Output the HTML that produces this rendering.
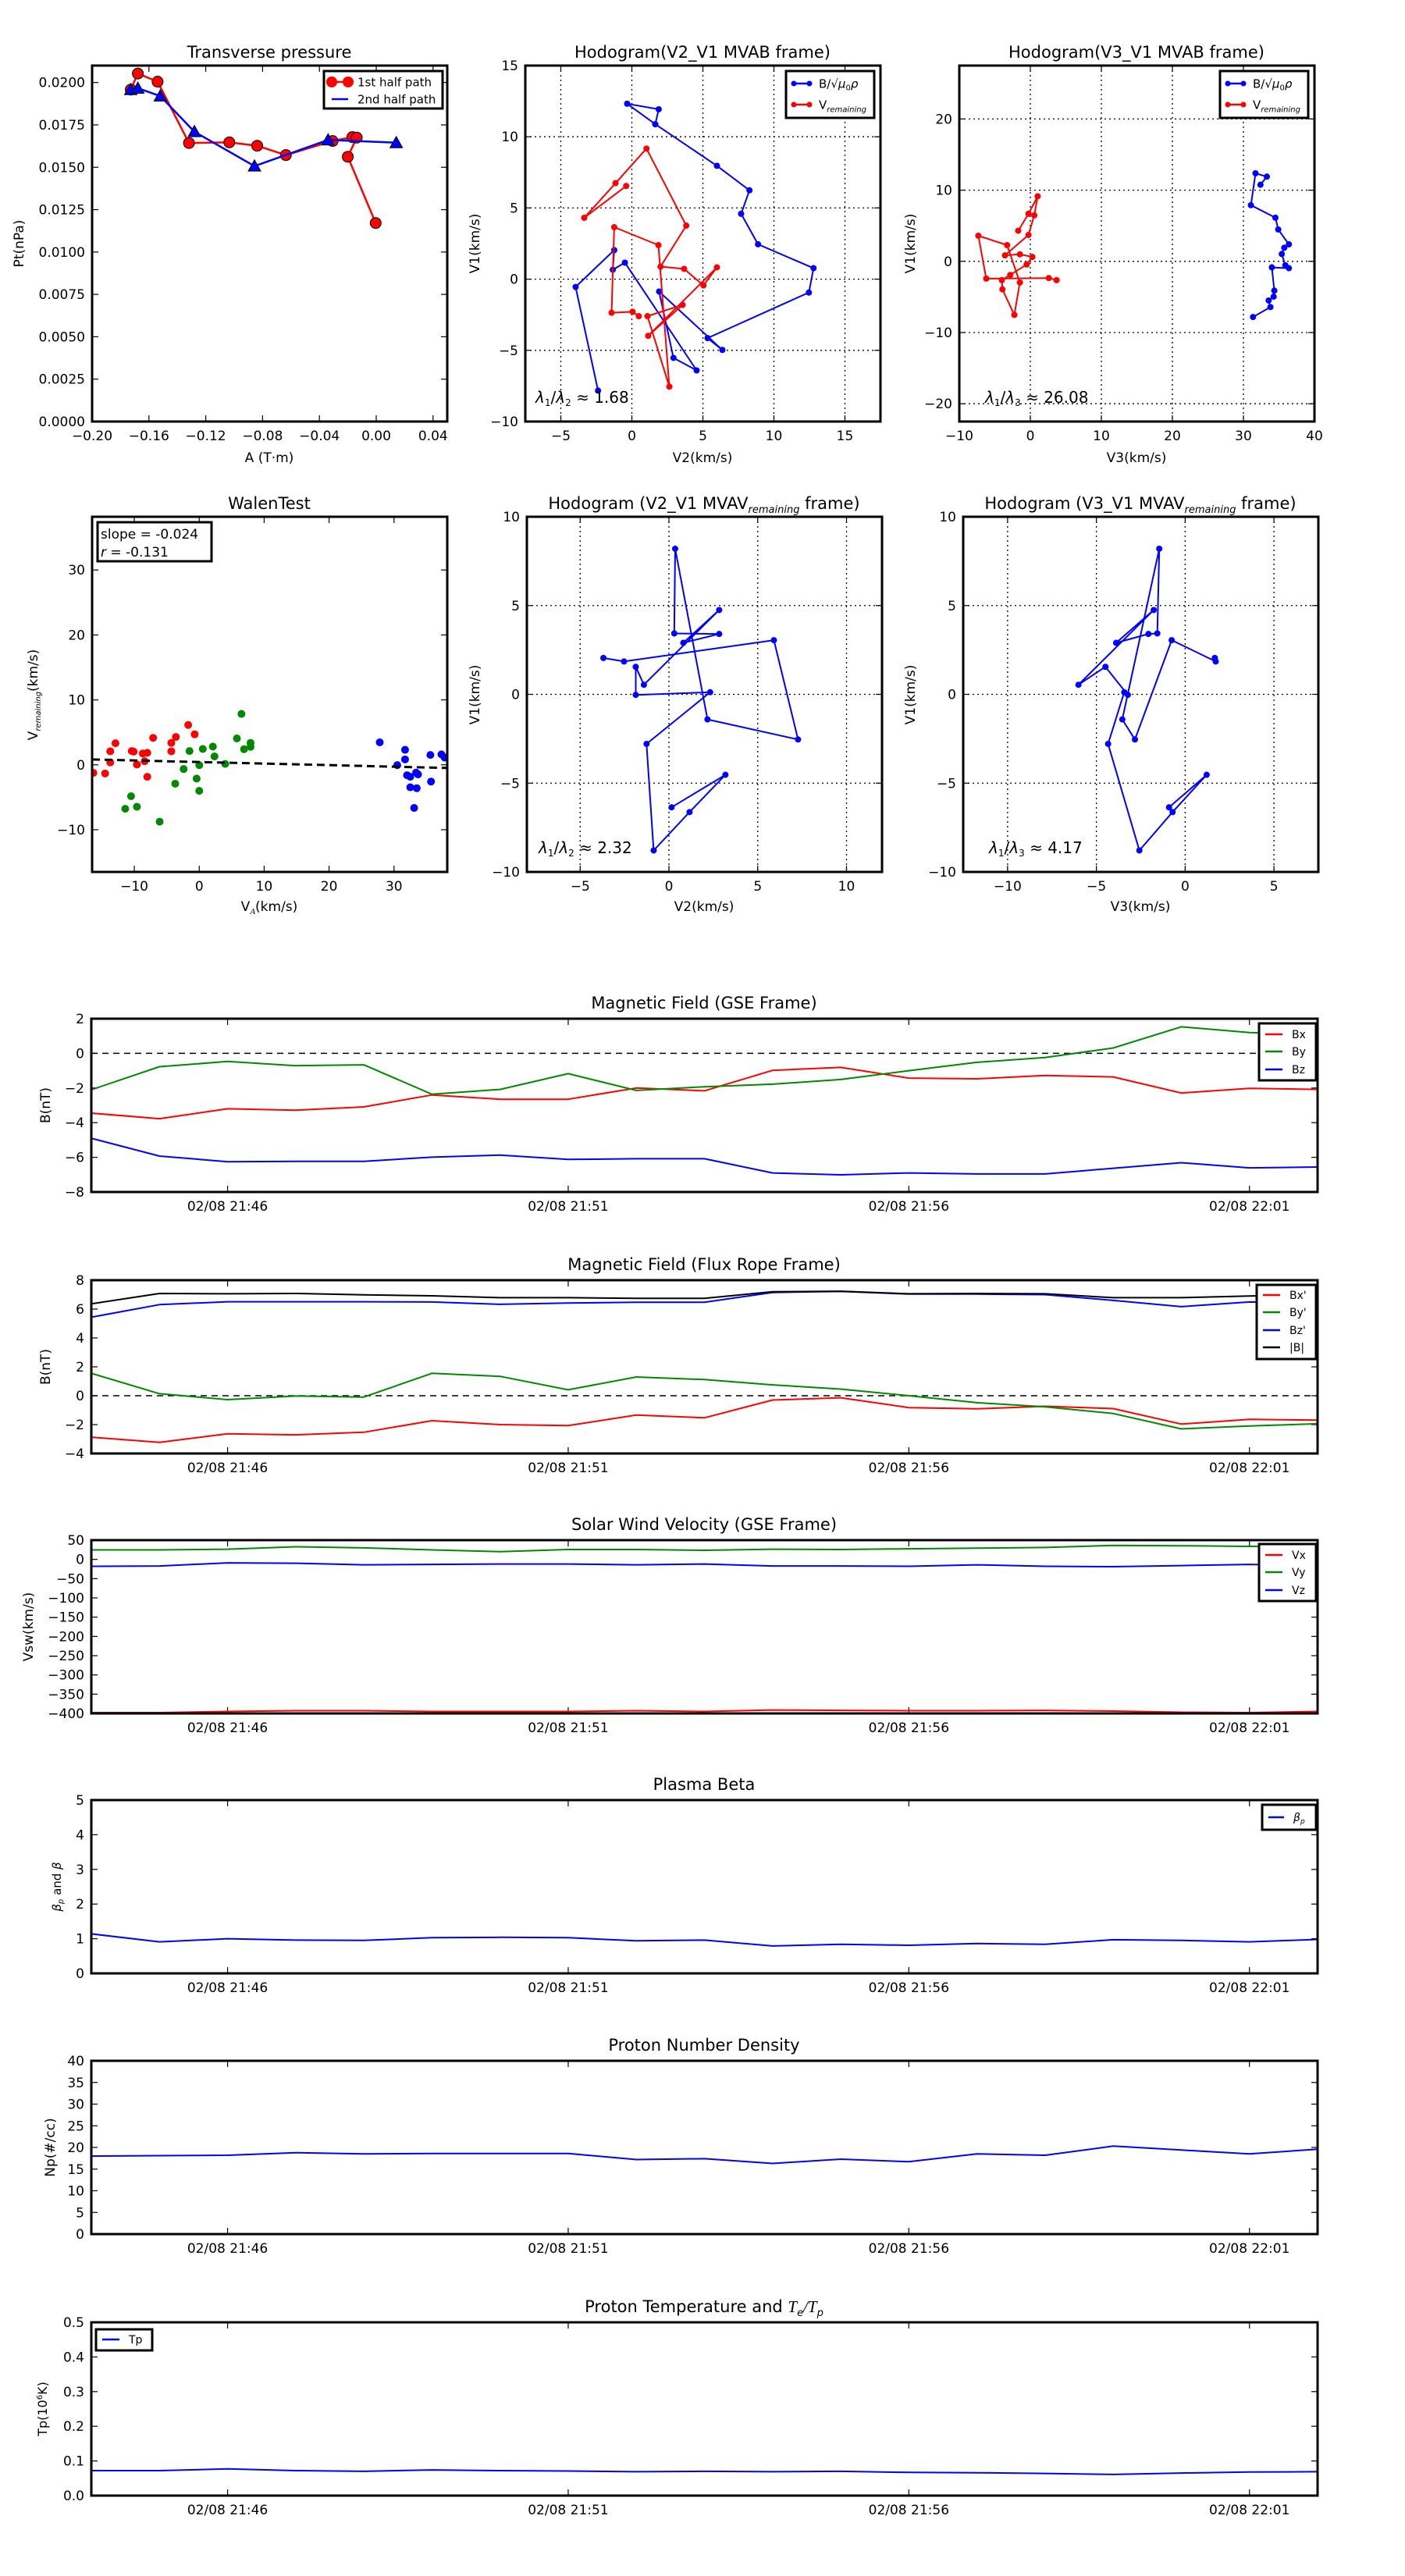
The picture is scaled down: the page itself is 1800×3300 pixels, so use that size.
<!DOCTYPE html>
<html><head><meta charset="utf-8"><title>Flux rope analysis</title>
<style>
html,body{margin:0;padding:0;background:#fff;}
svg{display:block;font-family:"DejaVu Sans","Liberation Sans",sans-serif;}
</style></head>
<body>
<svg id="chart" xmlns="http://www.w3.org/2000/svg" width="1800" height="3300" viewBox="0 0 1800 3300"><defs id="defs"></defs><rect width="1800" height="3300" fill="#fff"/></svg>
<script>
// ---------- DATA ----------
// Transverse pressure
const tpA1=[-0.1728,-0.1678,-0.1539,-0.1318,-0.1034,-0.0838,-0.0636,-0.0307,-0.0168,-0.0137,-0.020,-0.0004];
const tpP1=[0.01958,0.02053,0.02005,0.01643,0.01647,0.01627,0.01572,0.01655,0.01678,0.01675,0.01562,0.01171];
const tpA2=[-0.1728,-0.1678,-0.152,-0.128,-0.0857,-0.0339,0.0141];
const tpP2=[0.01958,0.01966,0.0192,0.0171,0.01507,0.01661,0.01645];
const tpXTicks=[-0.20,-0.16,-0.12,-0.08,-0.04,0.00,0.04];
const tpYTicks=[0,0.0025,0.005,0.0075,0.01,0.0125,0.015,0.0175,0.02];
// Hodogram V2_V1 MVAB
const habBV2=[-2.38,-3.96,-1.24,-1.34,-0.49,4.56,2.93,1.92,6.37,5.33,12.46,12.79,8.88,7.69,8.28,5.99,1.65,-0.33,1.89,1.65];
const habBV1=[-7.83,-0.55,2.04,0.66,1.16,-6.41,-5.53,-0.87,-4.97,-4.14,-0.94,0.77,2.45,4.59,6.24,7.96,10.88,12.32,11.93,10.88];
const habRV2=[-0.40,-3.35,-1.15,1.03,3.83,2.02,3.68,5.04,5.99,1.15,3.57,1.10,2.64,1.87,-1.24,-1.43,0.05,0.49];
const habRV1=[6.54,4.31,6.74,9.17,3.76,0.88,0.72,-0.44,0.83,-3.98,-1.81,-2.60,-7.55,2.39,3.65,-2.36,-2.29,-2.60];
// Hodogram V3_V1 MVAB
const hab3BV3=[31.35,33.8,33.55,34.25,34.35,34.0,36.4,35.9,35.4,35.75,36.4,34.9,34.5,31.05,31.7,33.3,32.4];
const hab3BV1=[-7.82,-6.42,-5.5,-4.96,-4.11,-0.85,-0.96,-0.55,1.03,1.91,2.39,4.48,6.13,7.89,12.37,11.9,10.76];
const hab3RV3=[-1.70,-0.26,1.03,0.55,-0.26,-3.57,-1.47,0.29,-0.52,-2.83,-4.01,-3.93,-2.25,-1.47,-3.27,-7.32,-6.21,2.6,3.7];
const hab3RV1=[4.3,6.68,9.14,6.46,3.71,0.84,0.99,0.62,-0.44,-1.91,-2.64,-3.93,-7.52,-2.97,2.28,3.6,-2.42,-2.35,-2.64];
// Walen test
const wRedX=[-16.3,-14.5,-13.7,-13.7,-12.9,-10.4,-10.1,-9.6,-8.7,-8.4,-8.0,-8.0,-7.1,-4.3,-4.3,-3.6,-1.7,-0.7];
const wRedY=[-1.25,-1.34,0.37,2.08,3.32,2.12,2.03,0.05,1.75,0.55,1.85,-1.85,4.15,3.37,2.08,4.29,6.13,4.70];
const wGreenX=[-11.4,-10.5,-9.6,-6.1,-3.7,-2.4,-1.5,-0.4,0,0,0.55,2.1,2.35,4.0,5.8,6.5,6.9,7.9,7.9];
const wGreenY=[-6.78,-4.84,-6.46,-8.76,-2.91,-0.65,2.12,-2.12,-0.05,-4.01,2.44,2.81,1.29,0.14,4.06,7.84,2.40,2.77,3.37];
const wBlueX=[27.8,30.5,31.7,31.7,32.0,32.5,32.5,33.1,33.4,33.7,33.5,35.6,35.7,37.3,37.8];
const wBlueY=[3.46,-0.05,2.31,0.83,-1.61,-1.85,-3.46,-6.64,-1.2,-1.48,-3.6,1.52,-2.58,1.61,1.11];
const wFit=[-0.024,0.43]; // slope, intercept
const wTicks=[-10,0,10,20,30];
// Hodogram MVAV
const mvV1=[2.05,1.85,3.05,-2.54,-1.41,8.20,3.43,3.40,2.90,4.75,0.54,1.55,-0.03,0.12,-2.79,-8.79,-6.63,-4.53,-6.36];
const mvV2=[-3.69,-2.53,5.91,7.27,2.17,0.35,0.30,2.83,0.81,2.83,-1.41,-1.87,-1.87,2.32,-1.26,-0.86,1.16,3.18,0.15];
const mvV3=[1.67,1.72,-0.76,-2.83,-3.54,-1.46,-1.57,-2.07,-3.89,-1.77,-6.01,-4.49,-3.23,-3.43,-4.34,-2.58,-0.71,1.21,-0.91];
// Time series (1-min cadence 21:44 - 22:02)
const tIndex=[0,1,2,3,4,5,6,7,8,9,10,11,12,13,14,15,16,17,18];
const tTickIdx=[2,7,12,17];
const tTickLabels=["02/08 21:46","02/08 21:51","02/08 21:56","02/08 22:01"];
const bx=[-3.45,-3.77,-3.2,-3.28,-3.09,-2.4,-2.65,-2.65,-2.0,-2.16,-0.98,-0.81,-1.43,-1.47,-1.28,-1.36,-2.29,-2.02,-2.08];
const by=[-2.1,-0.77,-0.47,-0.71,-0.66,-2.36,-2.08,-1.17,-2.14,-1.93,-1.78,-1.51,-1.0,-0.52,-0.24,0.31,1.53,1.2,1.1];
const bz=[-4.9,-5.93,-6.25,-6.23,-6.23,-5.99,-5.87,-6.12,-6.08,-6.08,-6.9,-7.01,-6.9,-6.96,-6.96,-6.63,-6.31,-6.61,-6.56];
const fbx=[-2.87,-3.23,-2.64,-2.71,-2.53,-1.73,-2.0,-2.07,-1.34,-1.53,-0.3,-0.14,-0.82,-0.91,-0.73,-0.89,-1.96,-1.64,-1.69];
const fby=[1.55,0.14,-0.27,-0.02,-0.09,1.55,1.34,0.41,1.3,1.12,0.75,0.46,0,-0.48,-0.77,-1.23,-2.3,-2.1,-1.94];
const fbz=[5.44,6.31,6.51,6.51,6.51,6.49,6.33,6.42,6.47,6.47,7.15,7.22,7.04,7.04,7.0,6.6,6.17,6.49,6.47];
const fbt=[6.36,7.08,7.06,7.08,6.99,6.92,6.79,6.79,6.74,6.74,7.2,7.24,7.06,7.08,7.06,6.79,6.79,6.9,7.0];
const vx=[-398,-398,-395,-393,-393,-395,-395,-395,-393,-395,-391,-392,-393,-393,-392,-394,-397,-398,-395];
const vy=[24.6,24.6,26.5,32.8,30,24.6,20,25.6,25.6,23.7,26.5,25.6,27.4,29.2,31,36.4,35.5,33.7,33.7];
const vz=[-18,-17,-9,-10,-14,-13,-12,-12,-14,-12,-17,-17,-18,-14,-18,-19,-16,-13,-16];
const betaP=[1.14,0.91,1.0,0.96,0.95,1.03,1.04,1.03,0.94,0.96,0.79,0.84,0.81,0.86,0.84,0.97,0.95,0.91,0.98];
const npDens=[18.0,18.1,18.2,18.8,18.5,18.6,18.6,18.6,17.2,17.4,16.3,17.3,16.7,18.5,18.2,20.3,19.4,18.5,19.6];
const tpTemp=[0.072,0.072,0.077,0.072,0.070,0.074,0.072,0.071,0.069,0.070,0.069,0.070,0.067,0.066,0.064,0.061,0.065,0.068,0.069];

// ---------- HELPERS ----------
const NS='http://www.w3.org/2000/svg';
const svg=document.getElementById('chart');
const defs=document.getElementById('defs');
function mk(tag,attrs,parent){const e=document.createElementNS(NS,tag);for(const k in attrs)e.setAttribute(k,attrs[k]);(parent||svg).appendChild(e);return e;}
function lin(d0,d1,r0,r1){return v=>r0+(v-d0)/(d1-d0)*(r1-r0);}
function fmtMinus(s){return String(s).replace('-','\u2212');}
let clipN=0;
function axes(name,x,y,w,h,xd,yd,xt,yt,xfmt,yfmt,grid){
  const g=mk('g',{});
  
  
  const sx=lin(xd[0],xd[1],x,x+w), sy=lin(yd[0],yd[1],y+h,y);
  const cid='clip'+(clipN++);
  const cp=mk('clipPath',{id:cid},defs);
  mk('rect',{x:x,y:y,width:w,height:h},cp);
  if(grid){
    xt.forEach(v=>{const gl=mk('line',{x1:sx(v),x2:sx(v),y1:y,y2:y+h,stroke:'#000','stroke-width':1.3,'stroke-dasharray':'2,4'},g);
      
      });
    yt.forEach(v=>{const gl=mk('line',{x1:x,x2:x+w,y1:sy(v),y2:sy(v),stroke:'#000','stroke-width':1.3,'stroke-dasharray':'2,4'},g);
      
      });
  }
  xt.forEach((v,i)=>{
    const px=sx(v);
    mk('line',{x1:px,x2:px,y1:y+h,y2:y+h-8,stroke:'#000','stroke-width':1.2},g);
    mk('line',{x1:px,x2:px,y1:y,y2:y+8,stroke:'#000','stroke-width':1.2},g);
    const t=mk('text',{x:px,y:y+h+24,'text-anchor':'middle','font-size':17,fill:'#000'},g);
    t.textContent=xfmt(v,i);
    
    
  });
  yt.forEach((v,i)=>{
    const py=sy(v);
    mk('line',{x1:x,x2:x+8,y1:py,y2:py,stroke:'#000','stroke-width':1.2},g);
    mk('line',{x1:x+w,x2:x+w-8,y1:py,y2:py,stroke:'#000','stroke-width':1.2},g);
    const t=mk('text',{x:x-9,y:py+6,'text-anchor':'end','font-size':17,fill:'#000'},g);
    t.textContent=yfmt(v,i);
    
    
  });
  const plot=mk('g',{'clip-path':'url(#'+cid+')'},g);
  function finish(){const r=mk('rect',{x:x,y:y,width:w,height:h,fill:'none',stroke:'#000','stroke-width':3},g);
    
    }
  return {sx,sy,g,plot,finish,x,y,w,h};
}
function title(str,cx,cy){const t=mk('text',{x:cx,y:cy,'text-anchor':'middle','font-size':21,fill:'#000'});t.textContent=str;
  
  return t;}
function xlabel(str,cx,cy){const t=mk('text',{x:cx,y:cy,'text-anchor':'middle','font-size':17,fill:'#000'});t.textContent=str;
  
  return t;}
function ylabel(str,cx,cy){const t=mk('text',{x:cx,y:cy,'text-anchor':'middle','font-size':17,fill:'#000',transform:'rotate(-90 '+cx+' '+cy+')'});t.textContent=str;
  
  return t;}
function line(ax,xs,ys,color,width,name,dash){
  const d=xs.map((v,i)=>(i?'L':'M')+ax.sx(v).toFixed(1)+','+ax.sy(ys[i]).toFixed(1)).join('');
  const p=mk('path',{d:d,fill:'none',stroke:color,'stroke-width':width,'stroke-linejoin':'round'},ax.plot);
  if(dash)p.setAttribute('stroke-dasharray',dash);
  
  
  return p;
}
function dots(ax,xs,ys,color,r,name,edge){
  xs.forEach((v,i)=>{
    const c=mk('circle',{cx:ax.sx(v),cy:ax.sy(ys[i]),r:r,fill:color,stroke:edge||'none','stroke-width':edge?1:0},ax.plot);
    
    
  });
}
function tris(ax,xs,ys,color,s,name){
  xs.forEach((v,i)=>{
    const cx=ax.sx(v),cy=ax.sy(ys[i]);
    const p=mk('polygon',{points:(cx)+','+(cy-s)+' '+(cx-s)+','+(cy+s*0.8)+' '+(cx+s)+','+(cy+s*0.8),fill:color,stroke:'#000','stroke-width':1},ax.plot);
    
    
  });
}
function legendBox(x,y,w,h,name){const r=mk('rect',{x:x,y:y,width:w,height:h,fill:'#fff',stroke:'#000','stroke-width':3});
  
  return r;}
function legendEntry(x1,x2,y,color,label,fs,dotR){
  const l=mk('line',{x1:x1,x2:x2,y1:y,y2:y,stroke:color,'stroke-width':2.5});
  
  
  if(dotR){[x1,x2].forEach(px=>{mk('circle',{cx:px,cy:y,r:dotR,fill:color});});}
  const t=mk('text',{x:x2+12,y:y+fs*0.35,'font-size':fs,fill:'#000'});
  t.innerHTML=label;
  
  
  return t;
}
function note(str,x,y,fs){const t=mk('text',{x:x,y:y,'font-size':fs||20,fill:'#000'});t.innerHTML=str;
  
  return t;}
const intFmt=v=>fmtMinus(v);

// ---------- ROW 1 ----------
// Transverse pressure
let a=axes('transverse-pressure-axes',118,84,455,456,[-0.2,0.05],[0,0.021],tpXTicks,tpYTicks,v=>fmtMinus(v.toFixed(2)),v=>v.toFixed(4),false);
line(a,tpA1,tpP1,'#f00',2.5,'first-half-path-line');
dots(a,tpA1,tpP1,'#f00',7,'first-half-path-point','#000');
line(a,tpA2,tpP2,'#00f',2.5,'second-half-path-line');
tris(a,tpA2,tpP2,'#00f',8,'second-half-path-point');
a.finish();
title('Transverse pressure',345,74);
xlabel('A (T\u00b7m)',345,592);
ylabel('Pt(nPa)',30,312);
legendBox(415,91,152,48,'transverse-pressure-legend');
legendEntry(425,446,105,'#f00','1st half path',15,7);
legendEntry(425,446,127,'#00f','2nd half path',15,0);

// Hodogram V2_V1 MVAB
a=axes('hodogram-mvab-v2-axes',673,84,455,456,[-7.5,17.5],[-10,15],[-5,0,5,10,15],[-10,-5,0,5,10,15],intFmt,intFmt,true);
line(a,habBV2,habBV1,'#00f',2,'mvab-b-line');
dots(a,habBV2,habBV1,'#00f',4,'mvab-b-point');
line(a,habRV2,habRV1,'#f00',2,'mvab-v-line');
dots(a,habRV2,habRV1,'#f00',4,'mvab-v-point');
a.finish();
title('Hodogram(V2_V1 MVAB frame)',900,74);
xlabel('V2(km/s)',900,592);
ylabel('V1(km/s)',614,312);
legendBox(1007,91,113,60,'mvab-v2-legend');
legendEntry(1017,1037,107,'#00f','B/\u221a<tspan font-style="italic">\u03bc</tspan><tspan font-size="10" dy="3">0</tspan><tspan dy="-3" font-style="italic">\u03c1</tspan>',15,3.5);
legendEntry(1017,1037,134,'#f00','V<tspan font-size="10" dy="4" font-style="italic">remaining</tspan>',15,3.5);
note('<tspan font-style="italic">\u03bb</tspan><tspan font-size="12" dy="4">1</tspan><tspan dy="-4">/</tspan><tspan font-style="italic">\u03bb</tspan><tspan font-size="12" dy="4">2</tspan><tspan dy="-4"> \u2248 1.68</tspan>',686,516,20);

// Hodogram V3_V1 MVAB
a=axes('hodogram-mvab-v3-axes',1229,84,455,456,[-10,40],[-22.5,27.5],[-10,0,10,20,30,40],[-20,-10,0,10,20],intFmt,intFmt,true);
line(a,hab3BV3,hab3BV1,'#00f',2,'mvab3-b-line');
dots(a,hab3BV3,hab3BV1,'#00f',4,'mvab3-b-point');
line(a,hab3RV3,hab3RV1,'#f00',2,'mvab3-v-line');
dots(a,hab3RV3,hab3RV1,'#f00',4,'mvab3-v-point');
a.finish();
title('Hodogram(V3_V1 MVAB frame)',1456,74);
xlabel('V3(km/s)',1456,592);
ylabel('V1(km/s)',1172,312);
legendBox(1563,91,113,60,'mvab-v3-legend');
legendEntry(1573,1593,107,'#00f','B/\u221a<tspan font-style="italic">\u03bc</tspan><tspan font-size="10" dy="3">0</tspan><tspan dy="-3" font-style="italic">\u03c1</tspan>',15,3.5);
legendEntry(1573,1593,134,'#f00','V<tspan font-size="10" dy="4" font-style="italic">remaining</tspan>',15,3.5);
note('<tspan font-style="italic">\u03bb</tspan><tspan font-size="12" dy="4">1</tspan><tspan dy="-4">/</tspan><tspan font-style="italic">\u03bb</tspan><tspan font-size="12" dy="4">3</tspan><tspan dy="-4"> \u2248 26.08</tspan>',1262,516,20);

// ---------- ROW 2 ----------
a=axes('walen-test-axes',118,662,455,455,[-16.5,38.2],[-16.5,38.2],wTicks,wTicks,intFmt,intFmt,false);
dots(a,wRedX,wRedY,'#f00',5,'walen-red-point');
dots(a,wGreenX,wGreenY,'#080',5,'walen-green-point');
dots(a,wBlueX,wBlueY,'#00f',5,'walen-blue-point');
line(a,[-16.5,38.2],[wFit[1]+wFit[0]*-16.5,wFit[1]+wFit[0]*38.2],'#000',3,'walen-fit-line','10,6');
a.finish();
title('WalenTest',345,652);
{const t=mk('text',{x:345,y:1167,'text-anchor':'middle','font-size':17});t.innerHTML='V<tspan font-size="11" dy="4" font-style="italic" font-family="Liberation Serif">A</tspan><tspan dy="-4">(km/s)</tspan>';
 
 }
{const t=mk('text',{x:48,y:890,'text-anchor':'middle','font-size':17,transform:'rotate(-90 48 890)'});t.innerHTML='V<tspan font-size="10" dy="4" font-style="italic">remaining</tspan><tspan dy="-4">(km/s)</tspan>';
 
 }
legendBox(125,669,146,50,'walen-stats-box');
{const t=mk('text',{x:129,y:690,'font-size':17});t.textContent='slope = -0.024';
 
 }
{const t=mk('text',{x:129,y:713,'font-size':17});t.innerHTML='<tspan font-style="italic">r</tspan> = -0.131';
 
 }

a=axes('hodogram-mvav-v2-axes',675,662,455,455,[-8,12],[-10,10],[-5,0,5,10],[-10,-5,0,5,10],intFmt,intFmt,true);
line(a,mvV2,mvV1,'#00f',2,'mvav-v2-line');
dots(a,mvV2,mvV1,'#00f',4,'mvav-v2-point');
a.finish();
{const t=mk('text',{x:902,y:652,'text-anchor':'middle','font-size':21});t.innerHTML='Hodogram (V2_V1 MVAV<tspan font-size="13" dy="5" font-style="italic">remaining</tspan><tspan dy="-5"> frame)</tspan>';
 
 }
xlabel('V2(km/s)',902,1167);
ylabel('V1(km/s)',614,890);
note('<tspan font-style="italic">\u03bb</tspan><tspan font-size="12" dy="4">1</tspan><tspan dy="-4">/</tspan><tspan font-style="italic">\u03bb</tspan><tspan font-size="12" dy="4">2</tspan><tspan dy="-4"> \u2248 2.32</tspan>',690,1093,20);

a=axes('hodogram-mvav-v3-axes',1234,662,455,455,[-12.5,7.5],[-10,10],[-10,-5,0,5],[-10,-5,0,5,10],intFmt,intFmt,true);
line(a,mvV3,mvV1,'#00f',2,'mvav-v3-line');
dots(a,mvV3,mvV1,'#00f',4,'mvav-v3-point');
a.finish();
{const t=mk('text',{x:1461,y:652,'text-anchor':'middle','font-size':21});t.innerHTML='Hodogram (V3_V1 MVAV<tspan font-size="13" dy="5" font-style="italic">remaining</tspan><tspan dy="-5"> frame)</tspan>';
 
 }
xlabel('V3(km/s)',1461,1167);
ylabel('V1(km/s)',1172,890);
note('<tspan font-style="italic">\u03bb</tspan><tspan font-size="12" dy="4">1</tspan><tspan dy="-4">/</tspan><tspan font-style="italic">\u03bb</tspan><tspan font-size="12" dy="4">3</tspan><tspan dy="-4"> \u2248 4.17</tspan>',1267,1093,20);

// ---------- TIME SERIES ----------
const TX=117,TW=1571,TH=222;
function tsAxes(name,top,yd,yt,yfmt){
  return axes(name,TX,top,TW,TH,[0,18],yd,tTickIdx,yt,(v,i)=>tTickLabels[i],yfmt,false);
}
function zeroLine(ax){line(ax,[0,18],[0,0],'#000',1.5,'zero-line','8,6');}

a=tsAxes('gse-magnetic-field-axes',1305,[-8,2],[-8,-6,-4,-2,0,2],intFmt);
zeroLine(a);
line(a,tIndex,bx,'#f00',2,'bx-line');
line(a,tIndex,by,'#080',2,'by-line');
line(a,tIndex,bz,'#00f',2,'bz-line');
a.finish();
title('Magnetic Field (GSE Frame)',902,1292);
ylabel('B(nT)',64,1416);
legendBox(1613,1311,73,73,'gse-b-legend');
legendEntry(1621,1643,1325,'#f00','Bx',14);
legendEntry(1621,1643,1347,'#080','By',14);
legendEntry(1621,1643,1370,'#00f','Bz',14);

a=tsAxes('flux-rope-magnetic-field-axes',1640,[-4,8],[-4,-2,0,2,4,6,8],intFmt);
zeroLine(a);
line(a,tIndex,fbx,'#f00',2,'bx-prime-line');
line(a,tIndex,fby,'#080',2,'by-prime-line');
line(a,tIndex,fbz,'#00f',2,'bz-prime-line');
line(a,tIndex,fbt,'#000',2,'b-total-line');
a.finish();
title('Magnetic Field (Flux Rope Frame)',902,1627);
ylabel('B(nT)',64,1751);
legendBox(1610,1646,76,95,'flux-rope-b-legend');
legendEntry(1618,1640,1659,'#f00',"Bx'",14);
legendEntry(1618,1640,1681,'#080',"By'",14);
legendEntry(1618,1640,1704,'#00f',"Bz'",14);
legendEntry(1618,1640,1726,'#000','|B|',14);

a=tsAxes('solar-wind-velocity-axes',1973,[-400,50],[-400,-350,-300,-250,-200,-150,-100,-50,0,50],intFmt);
line(a,tIndex,vx,'#f00',2,'vx-line');
line(a,tIndex,vy,'#080',2,'vy-line');
line(a,tIndex,vz,'#00f',2,'vz-line');
a.finish();
title('Solar Wind Velocity (GSE Frame)',902,1960);
ylabel('Vsw(km/s)',42,2084);
legendBox(1613,1978,73,73,'velocity-legend');
legendEntry(1621,1643,1992,'#f00','Vx',14);
legendEntry(1621,1643,2014,'#080','Vy',14);
legendEntry(1621,1643,2037,'#00f','Vz',14);

a=tsAxes('plasma-beta-axes',2306,[0,5],[0,1,2,3,4,5],intFmt);
line(a,tIndex,betaP,'#00f',2,'beta-p-line');
a.finish();
title('Plasma Beta',902,2293);
{const t=mk('text',{x:78,y:2417,'text-anchor':'middle','font-size':15,transform:'rotate(-90 78 2417)'});t.innerHTML='<tspan font-style="italic">\u03b2</tspan><tspan font-size="10" dy="3" font-style="italic">p</tspan><tspan dy="-3"> and </tspan><tspan font-style="italic">\u03b2</tspan>';
 
 }
legendBox(1617,2312,69,32,'beta-legend');
legendEntry(1625,1645,2328,'#00f','<tspan font-style="italic">\u03b2</tspan><tspan font-size="9" dy="3" font-style="italic">p</tspan>',14);

a=tsAxes('proton-density-axes',2640,[0,40],[0,5,10,15,20,25,30,35,40],intFmt);
line(a,tIndex,npDens,'#00f',2,'np-line');
a.finish();
title('Proton Number Density',902,2627);
ylabel('Np(#/cc)',70,2751);

a=tsAxes('proton-temperature-axes',2975,[0,0.5],[0,0.1,0.2,0.3,0.4,0.5],v=>v.toFixed(1));
line(a,tIndex,tpTemp,'#00f',2,'tp-line');
a.finish();
{const t=mk('text',{x:902,y:2962,'text-anchor':'middle','font-size':21});t.innerHTML='Proton Temperature and <tspan font-style="italic" font-family="Liberation Serif">T</tspan><tspan font-size="13" dy="5" font-style="italic">e</tspan><tspan dy="-5" font-style="italic" font-family="Liberation Serif">/T</tspan><tspan font-size="13" dy="5" font-style="italic">p</tspan>';
 
 }
{const t=mk('text',{x:60,y:3086,'text-anchor':'middle','font-size':16,transform:'rotate(-90 60 3086)'});t.innerHTML='Tp(10<tspan font-size="10" dy="-6">6</tspan><tspan dy="6">K)</tspan>';
 
 }
legendBox(123,2984,72,27,'tp-legend');
legendEntry(131,153,2997,'#00f','Tp',14);
</script>
</body></html>
